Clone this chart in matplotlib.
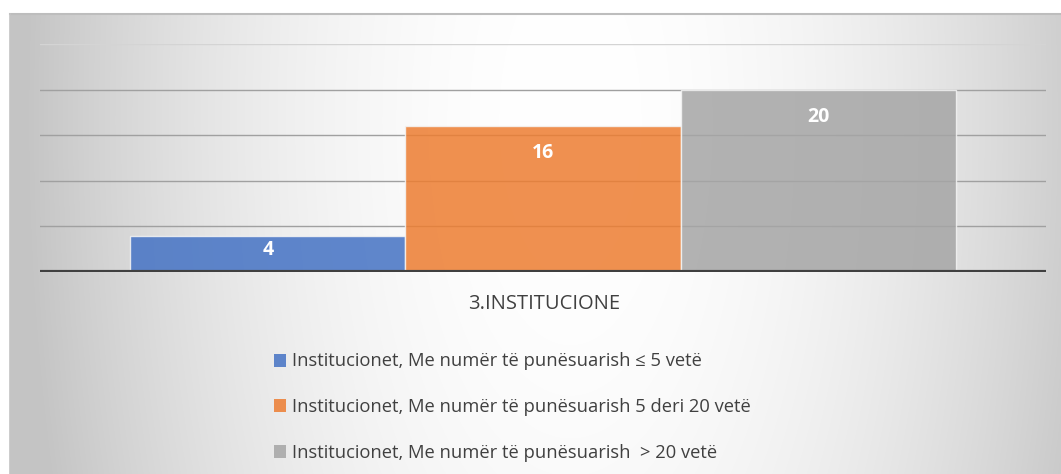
import matplotlib.pyplot as plt
import numpy as np
from matplotlib.patches import Patch

W, H = 1061, 474
DPI = 100

category = '3.INSTITUCIONE'
series_labels = ['Institucionet, Me numër të punësuarish ≤ 5 vetë',
                 'Institucionet, Me numër të punësuarish 5 deri 20 vetë',
                 'Institucionet, Me numër të punësuarish  > 20 vetë']
values = [4, 16, 20]
colors = ['#4472C4', '#ED7D31', '#A5A5A5']
TEXT = '#404040'

plt.rcParams['font.family'] = ['Open Sans', 'DejaVu Sans']

fig = plt.figure(figsize=(W / DPI, H / DPI), dpi=DPI)

# gradient background (chart area starts at x=10, y=14)
bg = fig.add_axes([10 / W, 0, 1 - 10 / W, (H - 14) / H])
bg.set_axis_off()
yy, xx = np.mgrid[14:H, 10:W]
dx = (xx - 570) / 520.0
dy = (yy - 120) / 520.0
v = 1 - 0.21 * (dx ** 2 + 0.2 * dy ** 2)
v = np.clip(v, 0.77, 1.0)
bg.imshow(np.dstack([v, v, v]), aspect='auto', extent=[0, 1, 0, 1], origin='upper')
bg.plot([0, 1], [1, 1], color='#bdbdbd', lw=1.5, transform=bg.transAxes, clip_on=False)
bg.plot([0, 0], [0, 1], color='#c4c4c4', lw=1.2, transform=bg.transAxes, clip_on=False)
bg.set_xlim(0, 1)
bg.set_ylim(0, 1)

# plot area
x0, x1 = 40, 1046
ytop, ybase = 44, 272
ax = fig.add_axes([x0 / W, (H - ybase) / H, (x1 - x0) / W, (ybase - ytop) / H])
ax.patch.set_alpha(0)
for s in ax.spines.values():
    s.set_visible(False)

xs = np.arange(len(values)) - 1
half = (x1 - x0) / 275.3 / 2
ax.set_xlim(-half, half)
ax.set_ylim(0, 25)

for g in [5, 10, 15, 20]:
    ax.axhline(g, color='#a0a0a0', lw=1, zorder=1)
ax.axhline(25, color='#d4d4d4', lw=1, zorder=1)

bars = ax.bar(xs, values, width=1.0, color=colors, alpha=0.85,
              edgecolor='#f4f4f4', linewidth=1, zorder=2)
ax.axhline(0, color='#404040', lw=3, zorder=3)

for b, val in zip(bars, values):
    ypos = val - min(3.0, val * 0.4)
    ax.text(b.get_x() + b.get_width() / 2, ypos, str(val), ha='center', va='center',
            color='white', fontsize=14, fontweight='bold', zorder=4)

ax.set_xticks([])
ax.set_yticks([])

fig.text(544 / W, 1 - 304 / H, category, ha='center', va='center',
         fontsize=14.5, color=TEXT)

handles = [Patch(facecolor=c, alpha=0.85, edgecolor='none') for c in colors]
leg = fig.legend(handles, series_labels, loc='upper left',
                 bbox_to_anchor=(257 / W, 1 - 336 / H), frameon=False,
                 fontsize=13.2, labelcolor=TEXT, handlelength=0.7, handleheight=0.7,
                 handletextpad=0.3, labelspacing=1.5)

fig.savefig('out.png', dpi=DPI)
